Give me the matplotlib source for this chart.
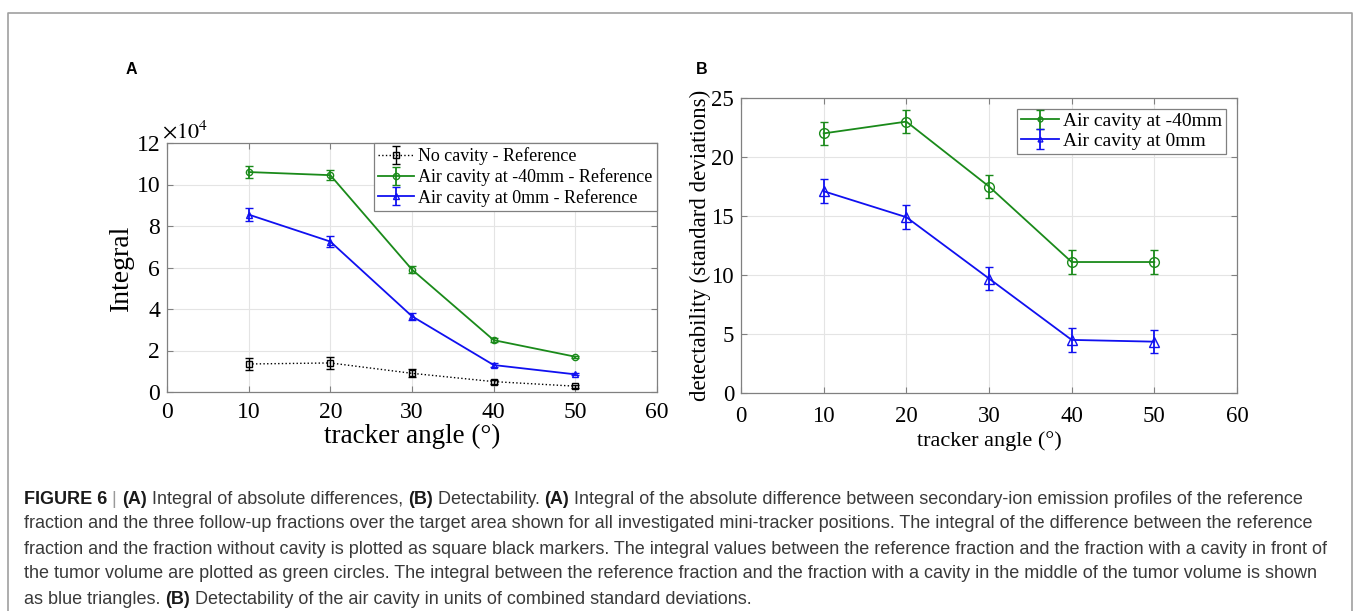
import matplotlib
matplotlib.use('Agg')
import matplotlib.pyplot as plt
from matplotlib.lines import Line2D

plt.rcParams['font.family'] = ['Liberation Serif', 'DejaVu Serif']
plt.rcParams['mathtext.fontset'] = 'stix'

# Tracker angles (degrees)
angles = [10, 20, 30, 40, 50]

# Panel A: integral of absolute differences (units of 1e4)
integral_no_cavity = [1.35, 1.40, 0.90, 0.50, 0.28]
integral_no_cavity_err = [0.30, 0.30, 0.20, 0.10, 0.08]
integral_cavity_m40 = [10.60, 10.45, 5.90, 2.50, 1.70]
integral_cavity_m40_err = [0.30, 0.25, 0.18, 0.08, 0.05]
integral_cavity_0 = [8.55, 7.25, 3.65, 1.30, 0.85]
integral_cavity_0_err = [0.30, 0.25, 0.18, 0.10, 0.05]

# Panel B: detectability (standard deviations)
detect_m40 = [22.0, 23.0, 17.5, 11.1, 11.1]
detect_m40_err = [1.0, 1.0, 1.0, 1.0, 1.0]
detect_0 = [17.1, 14.9, 9.7, 4.5, 4.35]
detect_0_err = [1.0, 1.0, 1.0, 1.0, 1.0]

x_ticks = [0, 10, 20, 30, 40, 50, 60]
a_y_ticks = [0, 2, 4, 6, 8, 10, 12]
b_y_ticks = [0, 5, 10, 15, 20, 25]

caption_lines = [
    [('FIGURE 6', True), (' | ', None), ('(A)', True),
     (' Integral of absolute differences, ', False), ('(B)', True),
     (' Detectability. ', False), ('(A)', True),
     (' Integral of the absolute difference between secondary-ion emission profiles of the reference', False)],
    [('fraction and the three follow-up fractions over the target area shown for all investigated '
      'mini-tracker positions. The integral of the difference between the reference', False)],
    [('fraction and the fraction without cavity is plotted as square black markers. The integral '
      'values between the reference fraction and the fraction with a cavity in front of', False)],
    [('the tumor volume are plotted as green circles. The integral between the reference fraction '
      'and the fraction with a cavity in the middle of the tumor volume is shown', False)],
    [('as blue triangles. ', False), ('(B)', True),
     (' Detectability of the air cavity in units of combined standard deviations.', False)],
]

GREEN = '#1a8a1a'
BLUE = '#1010f0'
SPINE = '#808080'


def style_axes(ax, yticks, ylim, tick_size, xpad):
    ax.set_xlim(0, 60)
    ax.set_ylim(*ylim)
    ax.set_xticks(x_ticks)
    ax.set_yticks(yticks)
    ax.grid(True, color='#e4e4e4', linewidth=0.8)
    ax.set_axisbelow(True)
    for sp in ax.spines.values():
        sp.set_color(SPINE)
        sp.set_linewidth(0.9)
    ax.tick_params(direction='in', length=4, color=SPINE, labelsize=tick_size,
                   top=True, right=True)
    ax.tick_params(axis='x', pad=xpad)
    ax.tick_params(axis='y', pad=5)


def draw_caption(fig, x0, y0, dy, size):
    renderer = fig.canvas.get_renderer()
    for i, segments in enumerate(caption_lines):
        x = x0
        y = y0 - i * dy
        for text, bold in segments:
            color = '#9a9a9a' if bold is None else ('#1a1a1a' if bold else '#3a3a3a')
            t = fig.text(x, y, text, fontsize=size, family='Liberation Sans',
                         weight='bold' if bold else 'normal', color=color,
                         va='center', ha='left')
            bb = t.get_window_extent(renderer)
            x += bb.width / fig.bbox.width


def main():
    fig = plt.figure(figsize=(13.54, 6.11), dpi=100)

    # Figure frame
    frame_x = [7.5 / 1354, 7.5 / 1354, 1352 / 1354, 1352 / 1354]
    frame_y = [0, 1 - 13 / 611, 1 - 13 / 611, 0]
    fig.add_artist(Line2D(frame_x, frame_y, transform=fig.transFigure,
                          color='#a0a0a0', linewidth=1.2))

    # Panel A
    ax1 = fig.add_axes([167 / 1354, 1 - 392 / 611, 490 / 1354, 249 / 611])
    ax1.errorbar(angles, integral_no_cavity, yerr=integral_no_cavity_err,
                 color='black', linestyle=':', linewidth=1.0, marker='s',
                 markersize=4, markerfacecolor='none', capsize=3,
                 label='No cavity - Reference')
    ax1.errorbar(angles, integral_cavity_m40, yerr=integral_cavity_m40_err,
                 color=GREEN, linewidth=1.3, marker='o', markersize=4.5,
                 markerfacecolor='none', capsize=3,
                 label='Air cavity at -40mm - Reference')
    ax1.errorbar(angles, integral_cavity_0, yerr=integral_cavity_0_err,
                 color=BLUE, linewidth=1.3, marker='^', markersize=4.5,
                 markerfacecolor='none', capsize=3,
                 label='Air cavity at 0mm - Reference')
    style_axes(ax1, a_y_ticks, (0, 12), 17, 7)
    ax1.set_xlabel('tracker angle (°)', fontsize=19.5, labelpad=1)
    ax1.set_ylabel('Integral', fontsize=20, labelpad=2)
    ax1.text(-0.01, 1.0, r'$\times 10^4$', transform=ax1.transAxes,
             fontsize=16, ha='left', va='bottom')
    leg1 = ax1.legend(loc='upper right', borderaxespad=0, fontsize=13,
                      fancybox=False, edgecolor=SPINE, framealpha=1,
                      handlelength=2.0, handletextpad=0.2, labelspacing=0.15,
                      borderpad=0.25)
    leg1.get_frame().set_linewidth(0.9)

    # Panel B
    ax2 = fig.add_axes([741 / 1354, 1 - 393 / 611, 496 / 1354, 295 / 611])
    ax2.errorbar(angles, detect_m40, yerr=detect_m40_err, color=GREEN,
                 linewidth=1.3, marker='o', markersize=7, markerfacecolor='none',
                 capsize=3, label='Air cavity at -40mm')
    ax2.errorbar(angles, detect_0, yerr=detect_0_err, color=BLUE,
                 linewidth=1.3, marker='^', markersize=7, markerfacecolor='none',
                 capsize=3, label='Air cavity at 0mm')
    style_axes(ax2, b_y_ticks, (0, 25), 16.5, 9)
    ax2.set_xlabel('tracker angle (°)', fontsize=16, labelpad=3)
    ax2.set_ylabel('detectability (standard deviations)', fontsize=16.5, labelpad=0)
    leg2 = ax2.legend(loc='upper right', borderaxespad=0.55, fontsize=14,
                      fancybox=False, edgecolor=SPINE, framealpha=1,
                      handlelength=2.0, handletextpad=0.2, labelspacing=0.1,
                      borderpad=0.2, markerscale=0.5)
    leg2.get_frame().set_linewidth(0.9)

    # Panel letters
    fig.text(131 / 1354, 1 - 70 / 611, 'A', family='Liberation Sans',
             weight='bold', fontsize=11.5, ha='center', va='center')
    fig.text(702 / 1354, 1 - 69 / 611, 'B', family='Liberation Sans',
             weight='bold', fontsize=11.5, ha='center', va='center')

    draw_caption(fig, 24 / 1354, 1 - 499 / 611, 25 / 611, 12.95)

    fig.savefig('out.png', dpi=100)


if __name__ == '__main__':
    main()
